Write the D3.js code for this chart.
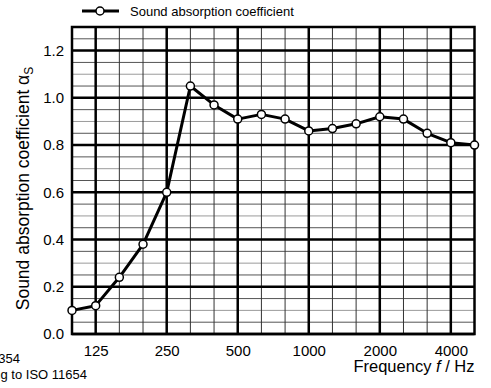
<!DOCTYPE html>
<html>
<head>
<meta charset="utf-8">
<script src="https://cdn.jsdelivr.net/npm/d3@7"></script>
<style>
  body { margin: 0; background: #fff; }
  svg { display: block; font-family: Arial, "Liberation Sans", sans-serif; }
</style>
</head>
<body>
<svg id="chart" width="491" height="388"></svg>
<script>
// third-octave band centre frequencies (Hz)
const bands = ["100", "125", "160", "200", "250", "315", "400", "500", "630", "800",
               "1000", "1250", "1600", "2000", "2500", "3150", "4000", "5000"];
// sound absorption coefficient per band
const alphaS = [0.10, 0.12, 0.24, 0.38, 0.60, 1.05, 0.97, 0.91, 0.93, 0.91,
                0.86, 0.87, 0.89, 0.92, 0.91, 0.85, 0.81, 0.80];
// labelled octave bands
const octaveTicks = ["125", "250", "500", "1000", "2000", "4000"];
const yTicks = [0.0, 0.2, 0.4, 0.6, 0.8, 1.0, 1.2];
const yMinor = d3.range(0, 1.3001, 0.05);

const svg = d3.select("#chart");
const margin = { top: 27, right: 16.5, bottom: 54, left: 72 };
const width = +svg.attr("width");
const height = +svg.attr("height");

// evenly spaced third-octave positions
const x = d3.scalePoint()
    .domain(bands)
    .range([margin.left, width - margin.right]);

const y = d3.scaleLinear()
    .domain([0, 1.3])
    .range([height - margin.bottom, margin.top]);

const grid = svg.append("g");

// horizontal minor lines (0.05 steps), the 0.1 lines a bit lighter
grid.selectAll("line.hminor")
  .data(yMinor)
  .join("line")
    .attr("x1", margin.left).attr("x2", width - margin.right)
    .attr("y1", d => y(d)).attr("y2", d => y(d))
    .attr("stroke", d => Math.round(d * 20) % 2 === 0 ? "#9a9a9a" : "#555")
    .attr("stroke-width", 1);

// vertical third-octave lines
grid.selectAll("line.vminor")
  .data(bands)
  .join("line")
    .attr("x1", d => x(d)).attr("x2", d => x(d))
    .attr("y1", margin.top).attr("y2", height - margin.bottom)
    .attr("stroke", "#333")
    .attr("stroke-width", 1);

// heavy lines at octaves and every 0.2
svg.append("g").selectAll("line")
  .data(octaveTicks)
  .join("line")
    .attr("x1", d => x(d)).attr("x2", d => x(d))
    .attr("y1", margin.top).attr("y2", height - margin.bottom)
    .attr("stroke", "#000")
    .attr("stroke-width", 2.5);

svg.append("g").selectAll("line")
  .data(yTicks)
  .join("line")
    .attr("x1", margin.left).attr("x2", width - margin.right)
    .attr("y1", d => y(d)).attr("y2", d => y(d))
    .attr("stroke", "#000")
    .attr("stroke-width", 2.5);

// frame
svg.append("rect")
    .attr("x", margin.left)
    .attr("y", margin.top)
    .attr("width", width - margin.right - margin.left)
    .attr("height", height - margin.bottom - margin.top)
    .attr("fill", "none")
    .attr("stroke", "#000")
    .attr("stroke-width", 2.5);

// axes (labels only, grid drawn above)
svg.append("g")
    .attr("transform", `translate(0,${height - margin.bottom})`)
    .call(d3.axisBottom(x).tickValues(octaveTicks).tickSize(0).tickPadding(11))
    .call(g => g.select(".domain").remove())
    .call(g => g.selectAll("text").attr("font-size", 15).attr("fill", "#000")
        .attr("font-family", "Arial, 'Liberation Sans', sans-serif"));

svg.append("g")
    .attr("transform", `translate(${margin.left},0)`)
    .call(d3.axisLeft(y).tickValues(yTicks).tickFormat(d3.format(".1f")).tickSize(0).tickPadding(8))
    .call(g => g.select(".domain").remove())
    .call(g => g.selectAll("text").attr("font-size", 15).attr("fill", "#000")
        .attr("font-family", "Arial, 'Liberation Sans', sans-serif"));

// data line
const data = bands.map((b, i) => ({ band: b, value: alphaS[i] }));

svg.append("path")
    .datum(data)
    .attr("fill", "none")
    .attr("stroke", "#000")
    .attr("stroke-width", 3)
    .attr("stroke-linejoin", "round")
    .attr("d", d3.line()
        .x(d => x(d.band))
        .y(d => y(d.value)));

svg.append("g").selectAll("circle")
  .data(data)
  .join("circle")
    .attr("cx", d => x(d.band))
    .attr("cy", d => y(d.value))
    .attr("r", 4)
    .attr("fill", "#fff")
    .attr("stroke", "#000")
    .attr("stroke-width", 1.5);

// axis titles
svg.append("text")
    .attr("x", width - margin.right)
    .attr("y", 372)
    .attr("text-anchor", "end")
    .attr("font-size", 16.5)
    .html("Frequency <tspan font-style='italic'>f</tspan> / Hz");

svg.append("text")
    .attr("transform", `translate(29,${(margin.top + height - margin.bottom) / 2 + 8}) rotate(-90)`)
    .attr("text-anchor", "middle")
    .attr("font-size", 17.5)
    .html("Sound absorption coefficient α<tspan font-size='12' dy='4'>S</tspan>");

// legend
const legend = svg.append("g");
legend.append("line")
    .attr("x1", 82).attr("x2", 119)
    .attr("y1", 11).attr("y2", 11)
    .attr("stroke", "#000").attr("stroke-width", 3);
legend.append("circle")
    .attr("cx", 100).attr("cy", 11).attr("r", 4)
    .attr("fill", "#fff").attr("stroke", "#000").attr("stroke-width", 1.5);
legend.append("text")
    .attr("x", 130).attr("y", 16)
    .attr("font-size", 13)
    .text("Sound absorption coefficient");

// notes, cut off at the left edge like the source
svg.append("text")
    .attr("x", 20).attr("y", 363)
    .attr("text-anchor", "end")
    .attr("font-size", 13)
    .text("Measured according to EN ISO 354");
svg.append("text")
    .attr("x", 87).attr("y", 379)
    .attr("text-anchor", "end")
    .attr("font-size", 13)
    .text("Rating according to ISO 11654");
</script>
</body>
</html>
